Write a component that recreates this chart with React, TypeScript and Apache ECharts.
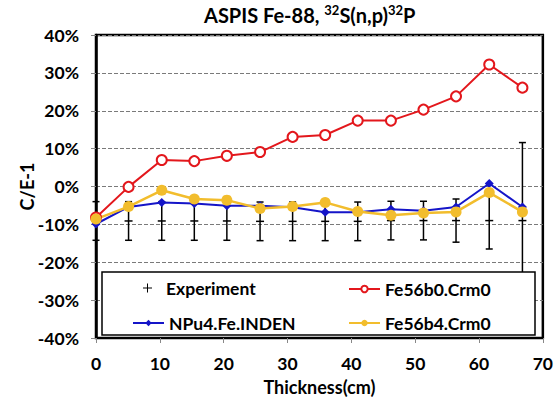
import React, { useEffect, useRef } from "react";
import * as echarts from "echarts";

// Detector positions along the iron slab (cm)
const thickness = [0, 5.1, 10.3, 15.4, 20.5, 25.7, 30.8, 35.9, 41.0, 46.2, 51.3, 56.4, 61.6, 66.8];

// C/E-1 in percent
const experimentValue = [-9.1, -9.1, -9.1, -9.1, -9.1, -9.2, -9.2, -9.2, -9.2, -9.0, -9.0, -9.0, -9.0, -9.0];
const experimentError = [5.1, 5.1, 5.1, 5.1, 5.1, 5.1, 5.1, 5.1, 5.1, 5.1, 5.1, 5.7, 7.5, 20.6];
const fe56b0 = [-8.2, -0.1, 7.0, 6.7, 8.1, 9.1, 13.1, 13.6, 17.4, 17.4, 20.3, 23.8, 32.2, 26.1];
const npu4 = [-9.9, -5.4, -4.2, -4.5, -5.1, -5.1, -5.5, -6.8, -6.8, -6.0, -6.4, -5.4, 0.8, -5.4];
const fe56b4 = [-8.6, -5.3, -1.0, -3.3, -3.6, -5.8, -5.3, -4.2, -6.6, -7.6, -7.0, -6.7, -1.6, -6.7];

const yTicks = [-40, -30, -20, -10, 0, 10, 20, 30, 40];

const FONT = "Lato, 'DejaVu Sans', sans-serif";

export default function App() {
  const ref = useRef<HTMLDivElement>(null);

  useEffect(() => {
    document.body.style.margin = "0";
    if (!ref.current) return;
    const chart = echarts.init(ref.current, undefined, { renderer: "svg" });

    const pair = (vals: number[]) => thickness.map((x, i) => [x, vals[i]]);
    const expData = thickness.map((x, i) => [x, experimentValue[i], experimentError[i]]);

    const legendText = { fontFamily: FONT, fontWeight: "bold" as const, fontSize: 17.5, color: "#000" };
    const labelText = { fontFamily: FONT, fontWeight: "bold" as const, fontSize: 17.5, color: "#000" };

    chart.setOption({
      animation: false,
      backgroundColor: "#fff",
      title: {
        text: "{m|ASPIS Fe-88, }{sup|32}{m|S(n,p)}{sup|32}{m|P}",
        left: 204,
        top: 3,
        padding: 0,
        textStyle: {
          fontFamily: FONT,
          fontWeight: "bold",
          fontSize: 20,
          color: "#000",
          lineHeight: 24,
          rich: {
            m: { fontFamily: FONT, fontWeight: "bold", fontSize: 20, color: "#000", lineHeight: 24 },
            sup: { fontFamily: FONT, fontWeight: "bold", fontSize: 13, color: "#000", verticalAlign: "top", lineHeight: 15 },
          },
        },
      },
      grid: {
        left: 96,
        right: 10,
        top: 35,
        bottom: 62,
        show: true,
        borderColor: "#000",
        borderWidth: 2.5,
        backgroundColor: "transparent",
      },
      xAxis: {
        type: "value",
        min: 0,
        max: 70,
        interval: 10,
        name: "Thickness(cm)",
        nameLocation: "middle",
        nameGap: 40,
        nameMoveOverlap: false,
        nameTextStyle: { fontFamily: FONT, fontWeight: "bold", fontSize: 18, color: "#000" },
        axisLine: { show: true, onZero: false, lineStyle: { color: "#000", width: 2 } },
        axisTick: { show: true, length: 5, lineStyle: { color: "#888" } },
        axisLabel: { ...labelText, margin: 16 },
        splitLine: { show: false },
      },
      yAxis: {
        type: "value",
        min: yTicks[0],
        max: yTicks[yTicks.length - 1],
        interval: 10,
        name: "C/E-1",
        nameLocation: "middle",
        nameGap: 60,
        nameMoveOverlap: false,
        nameRotate: 90,
        nameTextStyle: { fontFamily: FONT, fontWeight: "bold", fontSize: 18, color: "#000" },
        axisLine: { show: true, onZero: false, lineStyle: { color: "#000", width: 2.5 } },
        axisTick: { show: true, length: 5, lineStyle: { color: "#888" } },
        axisLabel: {
          ...labelText,
          margin: 17,
          formatter: (v: number) => `${v}%`,
        },
        splitLine: { show: true, lineStyle: { color: "#7a7a7a", type: "dashed", width: 1 } },
      },
      legend: [
        {
          z: 10,
          left: 143,
          top: 279,
          padding: 0,
          itemWidth: 9,
          itemHeight: 9,
          textStyle: { ...legendText, padding: [0, 0, 0, 9] },
          data: [{ name: "Experiment", icon: "path://M4,0h1v4h4v1h-4v4h-1v-4h-4v-1h4z" }],
        },
        {
          z: 10,
          left: 348,
          top: 280,
          padding: 0,
          itemWidth: 31,
          itemHeight: 8,
          textStyle: legendText,
          data: ["Fe56b0.Crm0"],
        },
        {
          z: 10,
          left: 132,
          top: 314,
          padding: 0,
          itemWidth: 31,
          itemHeight: 8,
          textStyle: legendText,
          data: ["NPu4.Fe.INDEN"],
        },
        {
          z: 10,
          left: 348,
          top: 314,
          padding: 0,
          itemWidth: 31,
          itemHeight: 8,
          textStyle: legendText,
          data: ["Fe56b4.Crm0"],
        },
      ],
      graphic: [
        {
          type: "rect",
          z: 5,
          shape: { x: 102, y: 272, width: 433, height: 63 },
          style: { fill: "#fff", stroke: "#000", lineWidth: 1.5 },
        },
      ],
      series: [
        {
          name: "Experiment",
          type: "custom",
          z: 1,
          itemStyle: { color: "#000" },
          encode: { x: 0, y: 1 },
          data: expData,
          renderItem: (params: any, api: any) => {
            const x = api.value(0);
            const v = api.value(1);
            const e = api.value(2);
            const top = api.coord([x, v + e]);
            const bot = api.coord([x, v - e]);
            const mid = api.coord([x, v]);
            const cap = 3.5;
            const cross = 4;
            const style = { stroke: "#000", lineWidth: 1.5 };
            return {
              type: "group",
              children: [
                { type: "line", shape: { x1: top[0], y1: top[1], x2: bot[0], y2: bot[1] }, style },
                { type: "line", shape: { x1: top[0] - cap, y1: top[1], x2: top[0] + cap, y2: top[1] }, style },
                { type: "line", shape: { x1: bot[0] - cap, y1: bot[1], x2: bot[0] + cap, y2: bot[1] }, style },
                { type: "line", shape: { x1: mid[0] - cross, y1: mid[1], x2: mid[0] + cross, y2: mid[1] }, style },
              ],
            };
          },
        },
        {
          name: "NPu4.Fe.INDEN",
          type: "line",
          z: 3,
          data: pair(npu4),
          symbol: "diamond",
          symbolSize: 9,
          lineStyle: { color: "#1515c8", width: 2 },
          itemStyle: { color: "#1515c8" },
        },
        {
          name: "Fe56b0.Crm0",
          type: "line",
          z: 3,
          data: pair(fe56b0),
          symbol: "emptyCircle",
          symbolSize: 10,
          lineStyle: { color: "#e3171c", width: 2 },
          itemStyle: { color: "#e3171c", borderColor: "#e3171c", borderWidth: 2.5 },
        },
        {
          name: "Fe56b4.Crm0",
          type: "line",
          z: 3,
          data: pair(fe56b4),
          symbol: "circle",
          symbolSize: 11,
          lineStyle: { color: "#f2bd2d", width: 2.5 },
          itemStyle: { color: "#f2bd2d" },
        },
      ],
    });

    return () => chart.dispose();
  }, []);

  return <div ref={ref} style={{ width: 556, height: 401 }} />;
}
